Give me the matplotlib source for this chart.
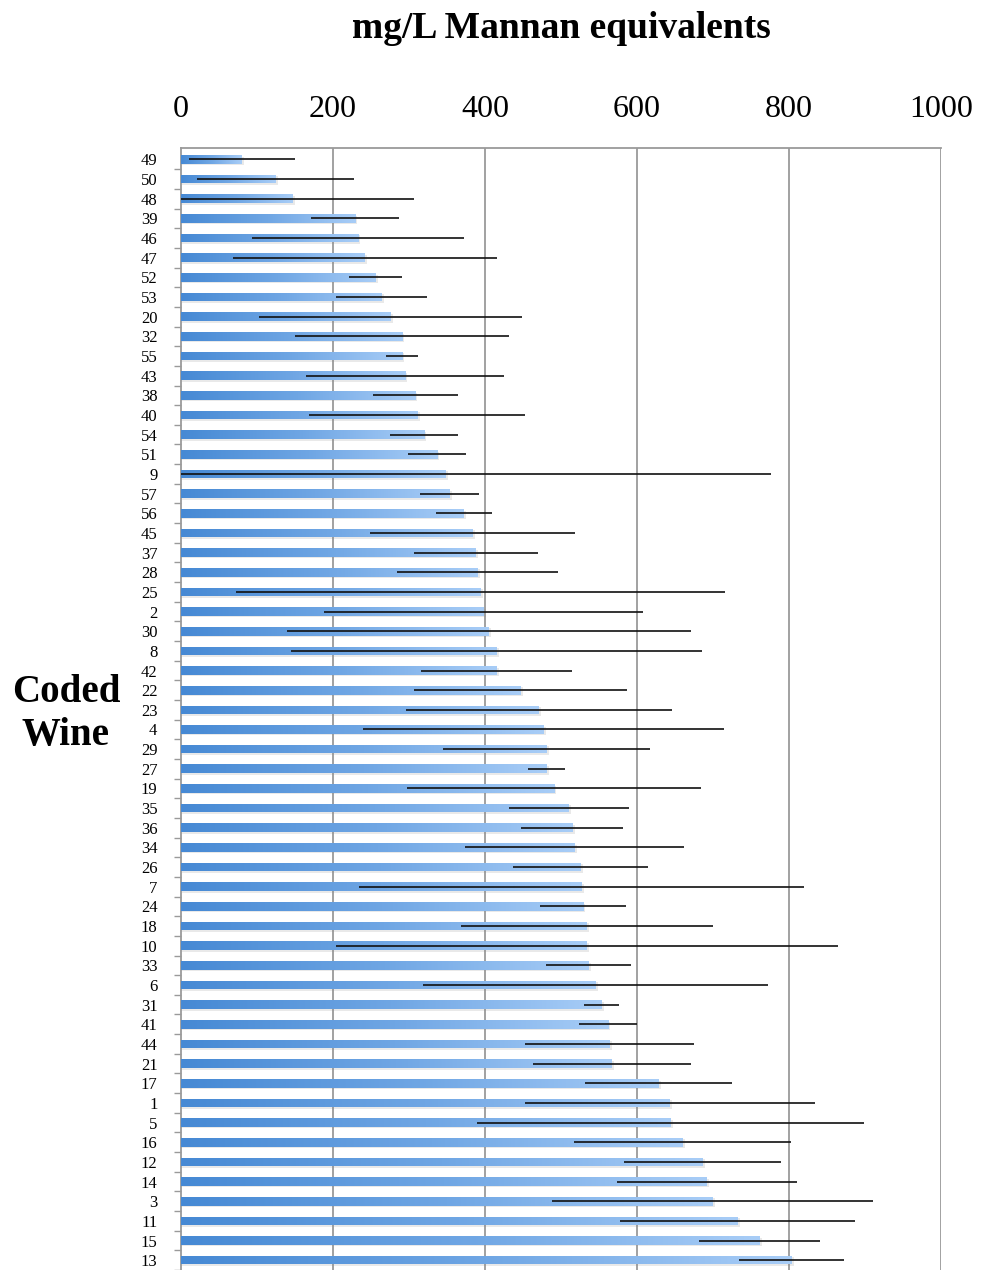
import matplotlib
matplotlib.use("Agg")
import matplotlib.pyplot as plt
import numpy as np
from matplotlib.colors import LinearSegmentedColormap
from matplotlib.patches import Rectangle

wines = ["49", "50", "48", "39", "46", "47", "52", "53", "20", "32", "55", "43", "38", "40",
         "54", "51", "9", "57", "56", "45", "37", "28", "25", "2", "30", "8", "42", "22", "23",
         "4", "29", "27", "19", "35", "36", "34", "26", "7", "24", "18", "10", "33", "6", "31",
         "41", "44", "21", "17", "1", "5", "16", "12", "14", "3", "11", "15", "13"]

mannan = [80, 124, 147, 229, 233, 242, 256, 264, 276, 291, 291, 295, 308, 311,
          320, 337, 348, 353, 372, 384, 388, 390, 394, 398, 405, 415, 415, 447, 471,
          477, 481, 481, 491, 510, 515, 518, 526, 527, 529, 534, 534, 536, 546, 553,
          562, 564, 567, 628, 643, 644, 660, 686, 692, 699, 732, 761, 803]

errors = [70, 103, 160, 58, 140, 174, 35, 60, 173, 141, 21, 130, 56, 142,
          45, 38, 428, 39, 37, 135, 82, 106, 322, 210, 266, 270, 99, 140, 175,
          237, 136, 24, 193, 79, 67, 144, 89, 293, 56, 166, 330, 56, 227, 23,
          38, 111, 104, 97, 191, 255, 143, 103, 118, 211, 155, 80, 69]

x_ticks = [0, 200, 400, 600, 800, 1000]

plt.rcParams['font.family'] = ['Liberation Serif', 'DejaVu Serif']

W, H = 981, 1270
fig = plt.figure(figsize=(W / 100, H / 100), dpi=100)
ax = fig.add_axes([181 / W, 0, 760 / W, 1 - 148 / H])

cmap = LinearSegmentedColormap.from_list("barblue", ["#4689D4", "#6FA6E4", "#A8CDF7"])
grad = np.linspace(0, 1, 256).reshape(1, -1)

y = np.arange(len(wines))
bh = 0.44
for i, v in enumerate(mannan):
    # soft shadow
    sh = Rectangle((0, y[i] - bh / 2 + 0.08), v + 3, bh, facecolor="#888888",
                   alpha=0.18, edgecolor="none", zorder=2)
    ax.add_patch(sh)
    rect = Rectangle((0, y[i] - bh / 2), v, bh, facecolor="none", edgecolor="none", zorder=3)
    ax.add_patch(rect)
    im = ax.imshow(grad, extent=[0, v, y[i] + bh / 2, y[i] - bh / 2], cmap=cmap,
                   aspect="auto", interpolation="bicubic", zorder=3)
    im.set_clip_path(rect)

ax.errorbar(mannan, y, xerr=errors, fmt="none", ecolor="#111111", elinewidth=1.2,
            capsize=0, zorder=4)

ax.set_xlim(0, 1000)
ax.set_ylim(56.5, -0.585)

ax.set_xticks(x_ticks)
ax.set_xticklabels([str(t) for t in x_ticks])
ax.xaxis.tick_top()
ax.tick_params(axis="x", which="both", length=0, pad=17, labelsize=23, labeltop=True,
               labelbottom=False)
for g in x_ticks[1:]:
    ax.axvline(g, color="#9a9a9a", linewidth=1.3, zorder=1)

ax.set_yticks(y)
ax.set_yticklabels(wines)
ax.set_yticks(np.arange(len(wines)) + 0.5, minor=True)
ax.tick_params(axis="y", which="major", length=0, pad=17, labelsize=12)
ax.tick_params(axis="y", which="minor", length=5, width=1, color="#9a9a9a", direction="out")

for s in ["right", "bottom"]:
    ax.spines[s].set_visible(False)
ax.spines["top"].set_color("#9a9a9a")
ax.spines["left"].set_color("#9a9a9a")
ax.spines["top"].set_linewidth(1.3)
ax.spines["left"].set_linewidth(1.3)

fig.text(561 / W, 1 - 28 / H, "mg/L Mannan equivalents", ha="center", va="center",
         fontsize=27, fontweight="bold")
fig.text(66 / W, 1 - 714 / H, "Coded\nWine", ha="center", va="center",
         fontsize=28, fontweight="bold", linespacing=1.2)

fig.savefig("out.png", dpi=100)
